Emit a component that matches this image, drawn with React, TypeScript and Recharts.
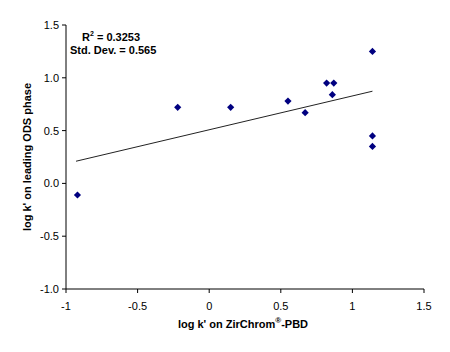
import { ScatterChart, Scatter, XAxis, YAxis, ReferenceLine, Label } from "recharts";

const xValues = [-0.92, -0.22, 0.15, 0.55, 0.67, 0.82, 0.87, 0.86, 1.14, 1.14, 1.14];
const yValues = [-0.11, 0.72, 0.72, 0.78, 0.67, 0.95, 0.95, 0.84, 1.25, 0.45, 0.35];
const xTicks = [-1, -0.5, 0, 0.5, 1, 1.5];
const yTicks = [-1, -0.5, 0, 0.5, 1, 1.5];
const trendX = [-0.93, 1.14];
const trendY = [0.21, 0.873];

const points = xValues.map((x, i) => ({ x, y: yValues[i] }));

const Diamond = (props: any) => {
  const { cx, cy } = props;
  const r = 3.6;
  return (
    <path
      d={`M${cx},${cy - r}L${cx + r},${cy}L${cx},${cy + r}L${cx - r},${cy}Z`}
      fill="#000080"
    />
  );
};

const font = "'Liberation Sans', Arial, sans-serif";

export default function App() {
  return (
    <div style={{ position: "absolute", left: 0, top: 0, width: 450, height: 352, background: "#fff", fontFamily: font }}>
      <ScatterChart width={450} height={352} margin={{ top: 25, right: 26, bottom: 18, left: 11 }}>
        <XAxis
          type="number"
          dataKey="x"
          domain={[-1, 1.5]}
          ticks={xTicks}
          tickSize={4}
          tickMargin={9}
          stroke="#000"
          tick={{ fill: "#000", fontSize: 11, fontFamily: font }}
          tickFormatter={(v: number) => String(v)}
          height={45}
        />
        <YAxis
          type="number"
          dataKey="y"
          domain={[-1, 1.5]}
          ticks={yTicks}
          tickSize={4}
          tickMargin={3}
          stroke="#000"
          tick={{ fill: "#000", fontSize: 11, fontFamily: font }}
          tickFormatter={(v: number) => v.toFixed(1)}
          width={55}
        >
          <Label
            value="log k' on leading ODS phase"
            angle={-90}
            position="insideLeft"
            offset={16}
            style={{ textAnchor: "middle", fontWeight: "bold", fontSize: 11, fill: "#000", fontFamily: font }}
          />
        </YAxis>
        <ReferenceLine
          segment={[
            { x: trendX[0], y: trendY[0] },
            { x: trendX[1], y: trendY[1] },
          ]}
          stroke="#222"
          strokeWidth={1}
          ifOverflow="visible"
        />
        <Scatter data={points} shape={Diamond} isAnimationActive={false} />
      </ScatterChart>
      <div style={{ position: "absolute", left: 82, top: 30, fontSize: 11, fontWeight: "bold", color: "#000" }}>
        R<sup style={{ fontSize: 7 }}>2</sup> = 0.3253
      </div>
      <div style={{ position: "absolute", left: 70, top: 44, fontSize: 11, fontWeight: "bold", color: "#000" }}>
        Std. Dev. = 0.565
      </div>
      <div style={{ position: "absolute", left: 0, width: 450, top: 316, textAlign: "center", paddingLeft: 36, boxSizing: "border-box", fontSize: 11, fontWeight: "bold", color: "#000" }}>
        log k' on ZirChrom<sup style={{ fontSize: 8 }}>®</sup>-PBD
      </div>
    </div>
  );
}
